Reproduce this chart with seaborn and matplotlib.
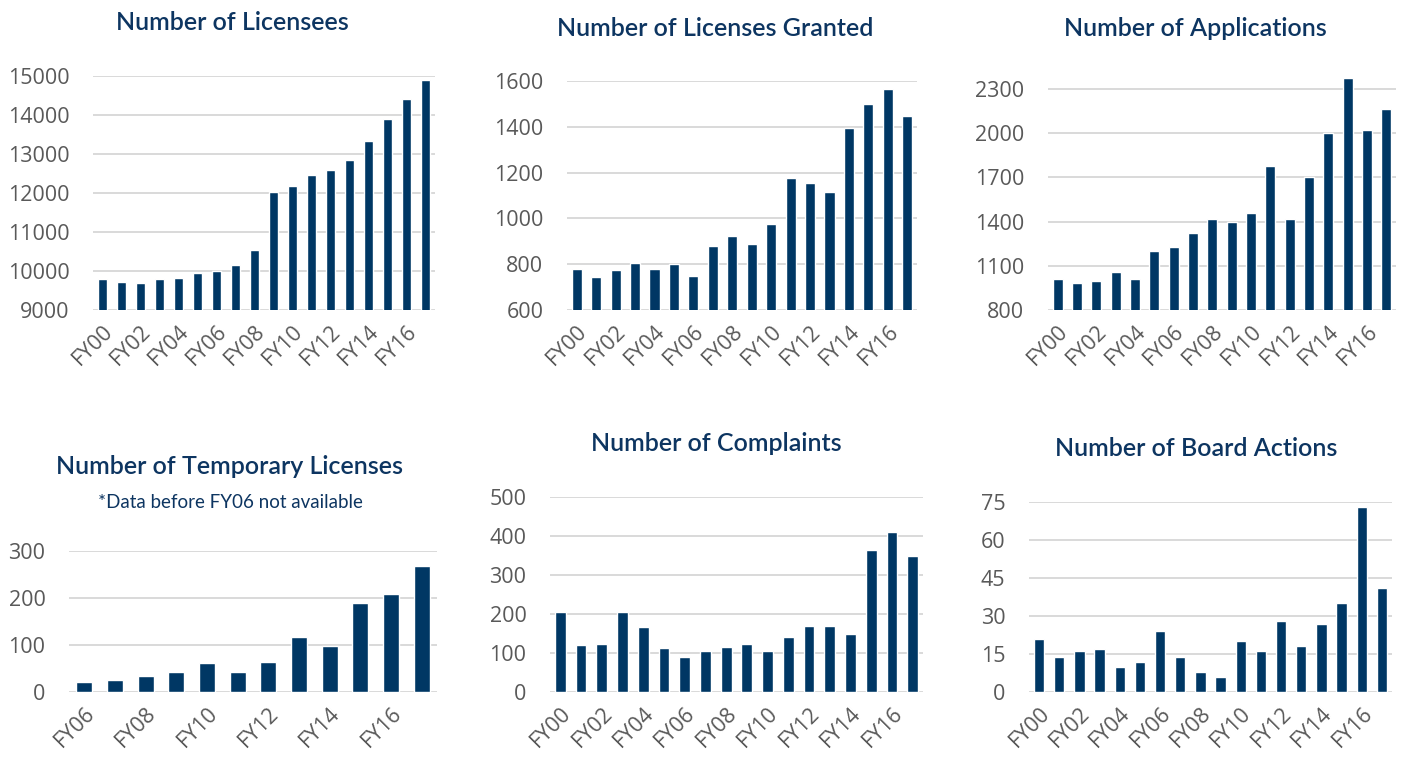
import numpy as np
import pandas as pd
import matplotlib
matplotlib.use("Agg")
import matplotlib.pyplot as plt
import seaborn as sns

# ---- data ----
years = [f"FY{y:02d}" for y in range(0, 18)]
temp_years = [f"FY{y:02d}" for y in range(6, 18)]

licensees = [9800, 9730, 9700, 9790, 9810, 9960, 10000, 10150, 10540,
             12020, 12190, 12460, 12590, 12840, 13330, 13900, 14400, 14900]
licenses_granted = [780, 745, 775, 805, 778, 800, 748, 880, 925,
                    890, 975, 1175, 1155, 1115, 1395, 1500, 1565, 1445]
applications = [1010, 980, 995, 1060, 1010, 1200, 1225, 1325, 1415,
                1400, 1460, 1775, 1420, 1700, 2000, 2375, 2020, 2160]
temporary = [22, 26, 33, 42, 61, 43, 64, 116, 98, 190, 208, 268]
complaints = [205, 120, 123, 206, 167, 113, 91, 106, 116,
              123, 105, 141, 168, 170, 148, 364, 410, 350]
board_actions = [21, 14, 16, 17, 10, 12, 24, 14, 8,
                 6, 20, 16, 28, 18, 27, 35, 73, 41]

BAR = "#003764"
NAVY = "#0d3561"
GRID = "#d9d9d9"
TICK = "#595959"

W, H = 1402, 757

sns.set_theme(style="white")
plt.rcParams["font.family"] = ["Open Sans", "DejaVu Sans"]

fig = plt.figure(figsize=(W / 100, H / 100), dpi=100)


def px_rect(x0, y_top, x1, y_bot):
    return [x0 / W, 1 - y_bot / H, (x1 - x0) / W, (y_bot - y_top) / H]


def panel(rect, cats, vals, yticks, ylim):
    ax = fig.add_axes(px_rect(*rect))
    df = pd.DataFrame({"year": cats, "value": vals})
    sns.barplot(data=df, x="year", y="value", color=BAR, width=0.52,
                saturation=1, ax=ax)
    ax.set_xlim(-0.5, len(cats) - 0.5)
    ax.set_ylim(*ylim)
    ax.set_yticks(yticks)
    ax.set_yticklabels([str(t) for t in yticks])
    ax.set_xticks(range(0, len(cats), 2))
    ax.set_xticklabels(cats[::2], rotation=45, ha="right", va="top",
                       rotation_mode="anchor")
    ax.set_xlabel("")
    ax.set_ylabel("")
    for s in ax.spines.values():
        s.set_visible(False)
    ax.yaxis.grid(True, color=GRID, lw=1.4)
    ax.set_axisbelow(True)
    ax.tick_params(axis="both", length=0, labelsize=15.5, labelcolor=TICK)
    ax.tick_params(axis="x", pad=8)
    ax.tick_params(axis="y", pad=17)
    return ax


def title(x, y, text, size=18, weight="semibold"):
    fig.text(x / W, 1 - y / H, text, ha="center", va="center",
             fontsize=size, color=NAVY, fontweight=weight,
             family=["Lato", "DejaVu Sans"])


# top row
panel((93, 76, 435, 310), years, licensees,
      list(range(9000, 15001, 1000)), (9000, 15000))
title(232, 22, "Number of Licensees")

panel((567, 81, 917, 310), years, licenses_granted,
      list(range(600, 1601, 200)), (600, 1600))
title(715, 28, "Number of Licenses Granted")

panel((1048, 74, 1396, 310), years, applications,
      list(range(800, 2301, 300)), (800, 2400))
title(1195, 29, "Number of Applications")

# bottom row
panel((69, 551, 437, 692), temp_years, temporary,
      [0, 100, 200, 300], (0, 300))
title(230, 466, "Number of Temporary Licenses")
title(230, 503, "*Data before FY06 not available", size=13.5, weight="normal")

panel((550, 497, 923, 692), years, complaints,
      list(range(0, 501, 100)), (0, 500))
title(716, 443, "Number of Complaints")

panel((1029, 502, 1392, 692), years, board_actions,
      list(range(0, 76, 15)), (0, 75))
title(1196, 449, "Number of Board Actions")

fig.savefig("out.png", dpi=100, facecolor="white")
